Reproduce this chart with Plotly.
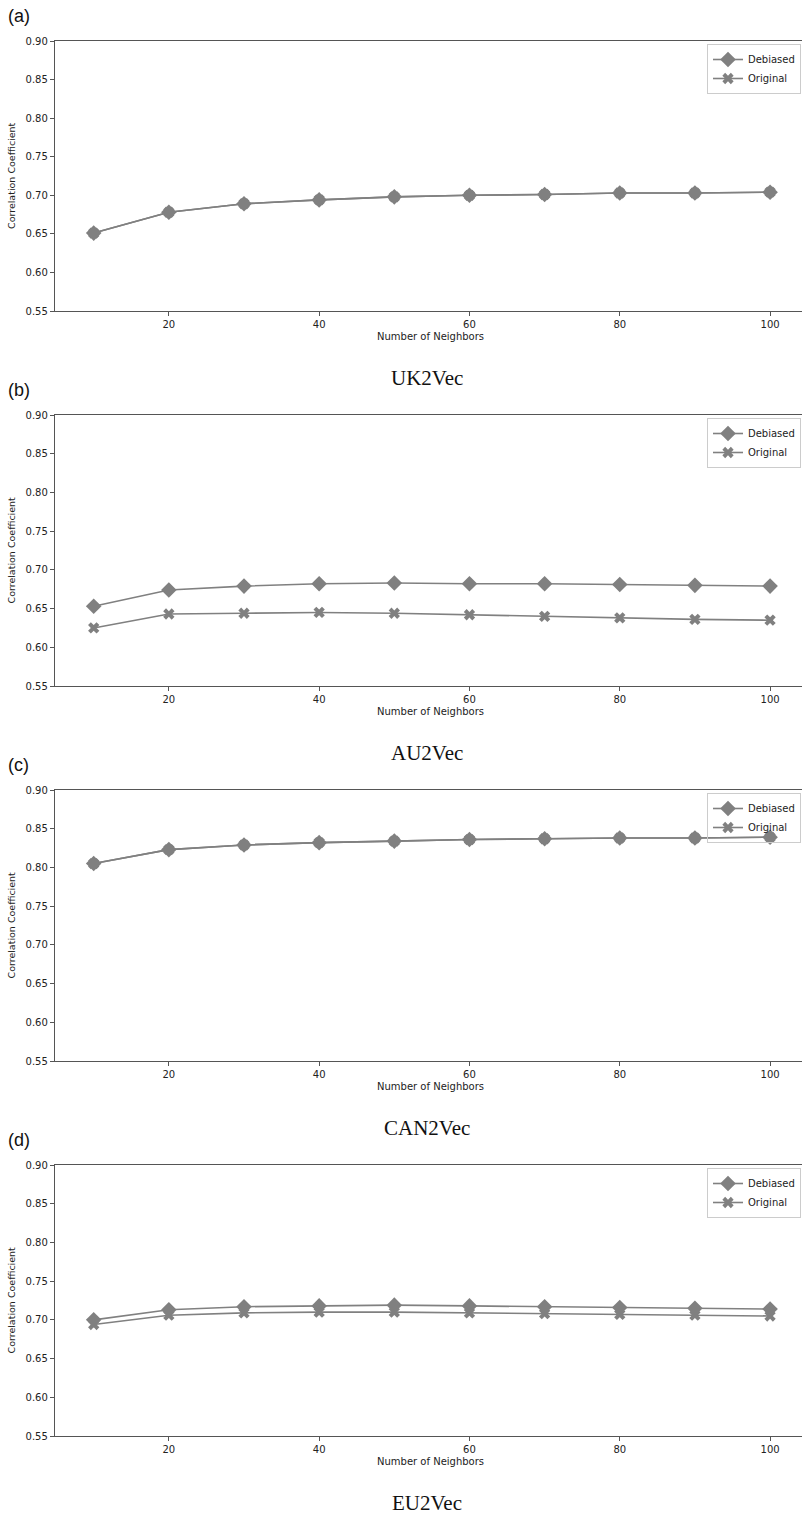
import plotly.graph_objects as go

neighbors = [10, 20, 30, 40, 50, 60, 70, 80, 90, 100]

uk_debiased = [0.651, 0.678, 0.689, 0.694, 0.698, 0.700, 0.701, 0.703, 0.703, 0.704]
uk_original = [0.651, 0.678, 0.689, 0.694, 0.698, 0.700, 0.701, 0.703, 0.703, 0.704]

au_debiased = [0.653, 0.674, 0.679, 0.682, 0.683, 0.682, 0.682, 0.681, 0.680, 0.679]
au_original = [0.625, 0.643, 0.644, 0.645, 0.644, 0.642, 0.640, 0.638, 0.636, 0.635]

can_debiased = [0.805, 0.823, 0.829, 0.832, 0.834, 0.836, 0.837, 0.838, 0.838, 0.839]
can_original = [0.805, 0.823, 0.829, 0.832, 0.834, 0.836, 0.837, 0.838, 0.838, 0.839]

eu_debiased = [0.700, 0.713, 0.717, 0.718, 0.719, 0.718, 0.717, 0.716, 0.715, 0.714]
eu_original = [0.694, 0.706, 0.709, 0.710, 0.710, 0.709, 0.708, 0.707, 0.706, 0.705]

panel_labels = ["(a)", "(b)", "(c)", "(d)"]
panel_titles = ["UK2Vec", "AU2Vec", "CAN2Vec", "EU2Vec"]
series = [(uk_debiased, uk_original), (au_debiased, au_original),
          (can_debiased, can_original), (eu_debiased, eu_original)]

y_ticks = [0.55, 0.60, 0.65, 0.70, 0.75, 0.80, 0.85, 0.90]
x_ticks = [20, 40, 60, 80, 100]

W, H = 802, 1516
ML, MR, MT, MB = 55, 0, 41, 80
tops = [41, 415, 790, 1165]
bottoms = [311, 686, 1061, 1436]


def py(p):
    return (H - MB - p) / (H - MT - MB)


def px(p):
    return (p - ML) / (W - ML - MR)


GRAY = "#808080"
AXIS = "#555555"
TICKFONT = dict(family="DejaVu Sans", size=10, color="#222222")

fig = go.Figure()
layout = dict(
    width=W, height=H,
    margin=dict(l=ML, r=MR, t=MT, b=MB),
    paper_bgcolor="white", plot_bgcolor="white",
    showlegend=True,
    annotations=[],
)

for i in range(4):
    sfx = "" if i == 0 else str(i + 1)
    xa, ya = "x" + sfx, "y" + sfx
    lg = "legend" + sfx
    deb, ori = series[i]
    fig.add_trace(go.Scatter(
        x=neighbors, y=ori, xaxis=xa, yaxis=ya, legend=lg, name="Original",
        mode="lines+markers", line=dict(color=GRAY, width=1.6),
        marker=dict(symbol="x", size=10, color=GRAY, line=dict(width=0)),
        legendrank=2, cliponaxis=False))
    fig.add_trace(go.Scatter(
        x=neighbors, y=deb, xaxis=xa, yaxis=ya, legend=lg, name="Debiased",
        mode="lines+markers", line=dict(color=GRAY, width=1.6),
        marker=dict(symbol="diamond", size=12, color=GRAY, line=dict(width=0)),
        legendrank=1, cliponaxis=False))

    layout["xaxis" + sfx] = dict(
        domain=[0, 1], anchor=ya, range=[4.85, 104.25],
        tickmode="array", tickvals=x_ticks, ticktext=[str(t) for t in x_ticks],
        ticks="outside", ticklen=4, tickwidth=1, tickcolor=AXIS,
        showline=True, linecolor=AXIS, linewidth=1.3, mirror=True,
        showgrid=False, zeroline=False, tickfont=TICKFONT)
    layout["yaxis" + sfx] = dict(
        domain=[py(bottoms[i]), py(tops[i])], anchor=xa, range=[0.55, 0.90],
        tickmode="array", tickvals=y_ticks, ticktext=["%.2f" % t for t in y_ticks],
        ticks="outside", ticklen=4, tickwidth=1, tickcolor=AXIS,
        showline=True, linecolor=AXIS, linewidth=1.3,
        showgrid=False, zeroline=False, tickfont=TICKFONT)
    layout[lg] = dict(
        x=px(801), y=py(tops[i] + 3), xanchor="right", yanchor="top",
        bgcolor="rgba(255,255,255,0)", bordercolor="#cccccc", borderwidth=1,
        font=dict(family="DejaVu Sans", size=10, color="#222222"),
        itemwidth=30, tracegroupgap=0, traceorder="normal")

    ann = layout["annotations"]
    ann.append(dict(text=panel_labels[i], xref="paper", yref="paper",
                    x=px(6), y=py(tops[i] - 25), xanchor="left", yanchor="middle",
                    showarrow=False,
                    font=dict(family="Liberation Sans", size=18, color="#111111")))
    ann.append(dict(text=panel_titles[i], xref="paper", yref="paper",
                    x=px(427), y=py(bottoms[i] + 67), xanchor="center", yanchor="middle",
                    showarrow=False,
                    font=dict(family="Liberation Serif", size=21, color="#111111")))
    ann.append(dict(text="Number of Neighbors", xref="paper", yref="paper",
                    x=px(430), y=py(bottoms[i] + 25), xanchor="center", yanchor="middle",
                    showarrow=False,
                    font=dict(family="DejaVu Sans", size=10, color="#222222")))
    ann.append(dict(text="Correlation Coefficient", xref="paper", yref="paper",
                    x=px(11), y=py((tops[i] + bottoms[i]) / 2), xanchor="center",
                    yanchor="middle", textangle=-90, showarrow=False,
                    font=dict(family="DejaVu Sans", size=9.5, color="#222222")))

fig.update_layout(**layout)
fig.write_html("out.html")
